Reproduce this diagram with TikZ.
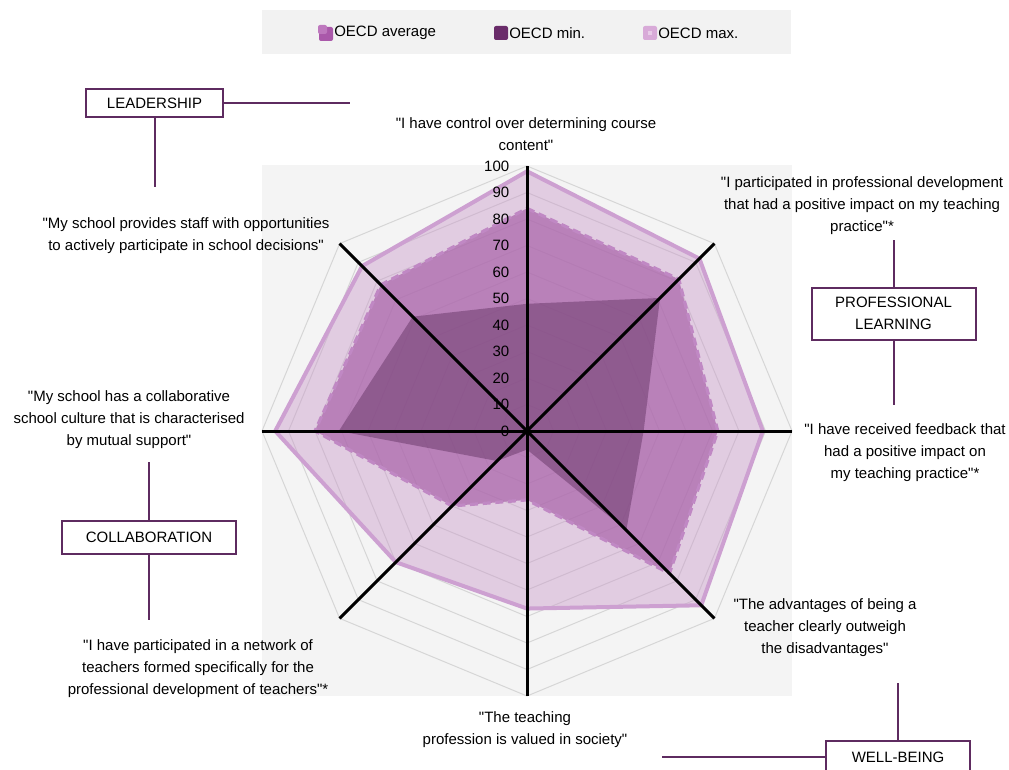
\documentclass[tikz,border=0pt]{standalone}
\usepackage{fontspec}
\setmainfont{Liberation Sans}[Ligatures=TeXOff]
\definecolor{chartbg}{HTML}{F4F4F4}
\definecolor{legendbg}{HTML}{F2F2F2}
\definecolor{gridgrey}{HTML}{D6D6D6}
\definecolor{maxfill}{HTML}{C896C8}
\definecolor{maxline}{HTML}{CDA0D1}
\definecolor{avgfill}{HTML}{A860A8}
\definecolor{avgline}{HTML}{C088C4}
\definecolor{minfill}{HTML}{6E3C6E}
\definecolor{catline}{HTML}{5E2B60}
\definecolor{iconavg}{HTML}{AA58AA}
\definecolor{iconavgtop}{HTML}{BE78BE}
\definecolor{iconmin}{HTML}{6A2C6A}
\definecolor{iconmax}{HTML}{D8AAD8}
\definecolor{iconmaxin}{HTML}{E8CCE8}
\begin{document}
\begin{tikzpicture}[x=0.75pt,y=-0.75pt,
  every node/.style={font=\fontsize{11.25pt}{16.5pt}\selectfont, text=black},
  gridline/.style={draw=gridgrey, line width=0.75pt},
  spoke/.style={draw=black, line width=2.25pt},
  maxarea/.style={fill=maxfill, fill opacity=0.42},
  maxedge/.style={draw=maxline, line width=3pt, line join=round},
  avgarea/.style={fill=avgfill, fill opacity=0.69},
  avgedge/.style={draw=avgline, line width=2.4pt, dash pattern=on 6pt off 3.5pt},
  minarea/.style={fill=minfill, fill opacity=0.55},
  quote/.style={align=center, inner sep=0pt},
  scalelabel/.style={anchor=east, inner sep=0pt},
  catbox/.style={draw=catline, line width=1.5pt, fill=white, align=center, inner sep=0pt},
  catlink/.style={draw=catline, line width=1.5pt},
  legicon/.style={minimum size=10.5pt, inner sep=0pt, rounded corners=1.5pt},
  legtext/.style={anchor=west, inner sep=0pt}]
\useasboundingbox (0,0) rectangle (1009,770);
\fill[white] (0,0) rectangle (1009,770);

% legend
\fill[legendbg] (262,10) rectangle (791,54);
\node[legicon, fill=iconavg] (iconA) at (326,34) {};
\fill[iconavgtop, rounded corners=1.5pt] (318,25) rectangle (327,34);
\node[legtext] (legA) at (334,33) {OECD average};
\node[legicon, fill=iconmin] (iconB) at (501,33) {};
\node[legtext] (legB) at (509,33) {OECD min.};
\node[legicon, fill=iconmax] (iconC) at (650,33) {};
\node[minimum size=3.5pt, inner sep=0pt, fill=iconmaxin] (iconCin) at (650,33) {};
\node[legtext] (legC) at (658,33) {OECD max.};

% chart panel
\fill[chartbg] (262,165) rectangle (792,696);

\begin{scope}[shift={(527,431)}, x=1.9875pt, y=1.9875pt]
  % octagonal grid, 0 to 100 in steps of 10
  \foreach \r in {10,20,...,100}
    \draw[gridline] (90:\r) -- (45:\r) -- (0:\r) -- (-45:\r) -- (-90:\r)
      -- (-135:\r) -- (180:\r) -- (135:\r) -- cycle;
  % OECD max.
  \path[maxarea] (90:98) -- (45:92) -- (0:89) -- (-45:93) -- (-90:67)
    -- (-135:70) -- (180:95) -- (135:88) -- cycle;
  \draw[maxedge] (90:98) -- (45:92) -- (0:89) -- (-45:93) -- (-90:67)
    -- (-135:70) -- (180:95) -- (135:88) -- cycle;
  % OECD average
  \path[avgarea] (90:84) -- (45:81) -- (0:72) -- (-45:76) -- (-90:26)
    -- (-135:40) -- (180:80) -- (135:78) -- cycle;
  \draw[avgedge] (90:84) -- (45:81) -- (0:72) -- (-45:76) -- (-90:26)
    -- (-135:40) -- (180:80) -- (135:78) -- cycle;
  % OECD min.
  \path[minarea] (90:48) -- (45:71) -- (0:44) -- (-45:53) -- (-90:7)
    -- (-135:16) -- (180:71) -- (135:61) -- cycle;
  % axes
  \coordinate (O) at (0,0);
  \foreach \a [count=\i] in {90,45,0,-45,-90,-135,180,135} {
    \coordinate (ax\i) at (\a:100);
    \draw[spoke] (O) -- (ax\i);
  }
  % scale
  \foreach \v in {0,10,...,100}
    \node[scalelabel] (tick\v) at (-6.6,\v) {\v};
\end{scope}

% statements
\node[quote] (q1) at (526,134) {"I have control over determining course\\content"};
\node[quote] (q2) at (862,206) {"I participated in professional development\\that had a positive impact on my teaching\\practice"*};
\node[quote] (q3) at (905,453) {"I have received feedback that\\had a positive impact on\\my teaching practice"*};
\node[quote] (q4) at (825,628) {"The advantages of being a\\teacher clearly outweigh\\the disadvantages"};
\node[quote] (q5) at (525,730) {"The teaching\\profession is valued in society"};
\node[quote] (q6) at (198,669) {"I have participated in a network of\\teachers formed specifically for the\\professional development of teachers"*};
\node[quote] (q7) at (129,420) {"My school has a collaborative\\school culture that is characterised\\by mutual support"};
\node[quote] (q8) at (186,236) {"My school provides staff with opportunities\\to actively participate in school decisions"};

% category boxes and their links
\node[catbox, minimum width=102.75pt, minimum height=21pt] (lead) at (154.5,103) {LEADERSHIP};
\coordinate (leadR) at (350,103);
\coordinate (leadD) at (154.5,187);
\draw[catlink] (lead.east) -- (leadR);
\draw[catlink] (lead.south) -- (leadD);

\node[catbox, minimum width=123pt, minimum height=39pt] (prof) at (893.5,313.5) {PROFESSIONAL\\LEARNING};
\coordinate (profU) at (893.5,240);
\coordinate (profD) at (893.5,405);
\draw[catlink] (profU) -- (prof.north);
\draw[catlink] (prof.south) -- (profD);

\node[catbox, minimum width=130.5pt, minimum height=24.75pt] (collab) at (149,537.5) {COLLABORATION};
\coordinate (collabU) at (149,462);
\coordinate (collabD) at (149,620);
\draw[catlink] (collabU) -- (collab.north);
\draw[catlink] (collab.south) -- (collabD);

\node[catbox, minimum width=108pt, minimum height=24pt] (well) at (898,757) {WELL-BEING};
\coordinate (wellU) at (898,683);
\coordinate (wellL) at (662,757);
\draw[catlink] (wellU) -- (well.north);
\draw[catlink] (wellL) -- (well.west);
\end{tikzpicture}
\end{document}
